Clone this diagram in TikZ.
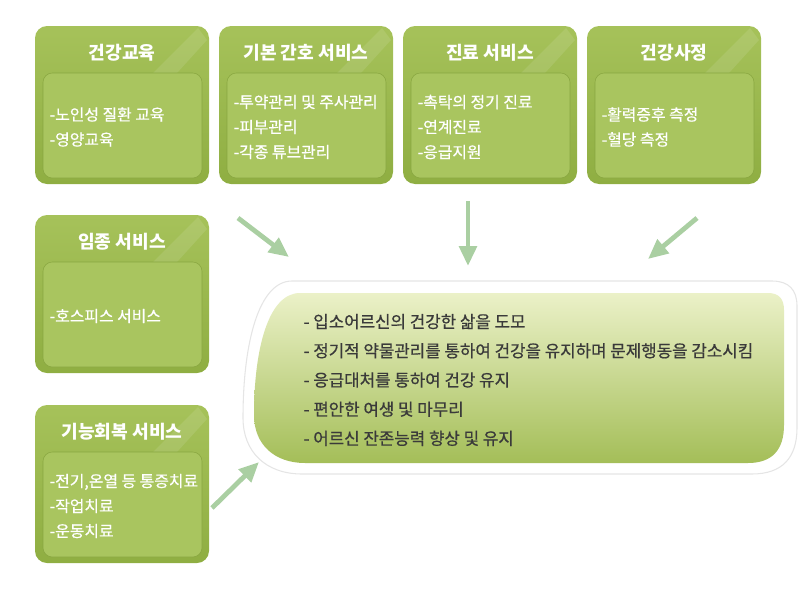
\documentclass[tikz,border=0pt]{standalone}
\usepackage{fontspec}
\setmainfont{Noto Sans CJK KR}
\newfontfamily\krmedium{Noto Sans CJK KR}[FakeBold=0.6]
\usetikzlibrary{arrows.meta}

\definecolor{boxtop}{HTML}{A6C25A}
\definecolor{boxbottom}{HTML}{8FAE42}
\definecolor{panelgreen}{HTML}{A9C55F}
\definecolor{paneledge}{HTML}{88A640}
\definecolor{arrowgreen}{HTML}{AACFA2}
\definecolor{goaltop}{HTML}{EBF1C8}
\definecolor{goalbottom}{HTML}{A4BE58}
\definecolor{goaltext}{HTML}{3A3A3A}

\tikzset{
  boxtitle/.style={text=white, font=\bfseries\fontsize{13.6}{16}\selectfont},
  boxlist/.style={text=white, anchor=west, align=left, font=\krmedium\fontsize{11.9}{18.75}\selectfont},
  flow/.style={arrowgreen, line width=3.6pt, -{Triangle[length=15pt,width=13pt]}}
}

\begin{document}
\begin{tikzpicture}[x=0.75pt,y=-0.75pt]
    \useasboundingbox (0,0) rectangle (800,600);

    % Service boxes
    \foreach \x/\y/\n/\t/\l in {
        35/26/edu/건강교육/{-노인성 질환 교육\\-영양교육},
        219/26/nursing/기본 간호 서비스/{-투약관리 및 주사관리\\-피부관리\\-각종 튜브관리},
        403/26/care/진료 서비스/{-촉탁의 정기 진료\\-연계진료\\-응급지원},
        587/26/checkup/건강사정/{-활력증후 측정\\-혈당 측정},
        35/215/hospice/임종 서비스/{-호스피스 서비스},
        35/405/rehab/기능회복 서비스/{-전기,온열 등 통증치료\\-작업치료\\-운동치료}}
    {
        \shade[rounded corners=9pt, top color=boxtop, bottom color=boxbottom] (\x,\y) rectangle ++(174,158);
        \fill[white, opacity=0.10] (\x+118,\y+47) -- (\x+163,\y+2) -- (\x+172,\y+14) -- (\x+142,\y+47) -- cycle;
        \draw[paneledge, fill=panelgreen, rounded corners=7pt] (\x+8,\y+47) rectangle ++(159,105);
        \node[boxtitle] (\n) at (\x+87,\y+27) {\t};
        \node[boxlist] (\n-list) at (\x+10,\y+101) {\l};
    }

    % Goal panel
    \fill[white, draw=gray!20, line width=0.8pt] (292,281) -- (772,281) .. controls (789,281) and (797,290) .. (797,306)
        -- (797,428) .. controls (797,458) and (782,474) .. (752,474) -- (302,474)
        .. controls (266,474) and (243,452) .. (243,418) .. controls (243,342) and (259,281) .. (292,281) -- cycle;
    \shade[top color=goaltop, bottom color=goalbottom] (300,293) -- (768,293) .. controls (779,293) and (784,299) .. (784,310)
        -- (784,425) .. controls (784,450) and (772,463) .. (748,463) -- (305,463)
        .. controls (275,463) and (254,445) .. (254,415) .. controls (254,350) and (268,293) .. (300,293) -- cycle;
    \node[text=goaltext, anchor=west, align=left, font=\krmedium\fontsize{12.6}{21.9}\selectfont] (goal) at (299,380)
        {- 입소어르신의 건강한 삶을 도모\\
         - 정기적 약물관리를 통하여 건강을 유지하며 문제행동을 감소시킴\\
         - 응급대처를 통하여 건강 유지\\
         - 편안한 여생 및 마무리\\
         - 어르신 잔존능력 향상 및 유지};

    % Arrows into the goal panel
    \coordinate (nursing-tail) at (238,218);  \coordinate (nursing-tip) at (289,257);
    \coordinate (care-tail) at (468,201);     \coordinate (care-tip) at (468,266);
    \coordinate (checkup-tail) at (697,218);  \coordinate (checkup-tip) at (648,259);
    \coordinate (rehab-tail) at (212,508);    \coordinate (rehab-tip) at (259,462);
    \foreach \a in {nursing,care,checkup,rehab}
        \draw[flow] (\a-tail) -- (\a-tip);
\end{tikzpicture}
\end{document}
